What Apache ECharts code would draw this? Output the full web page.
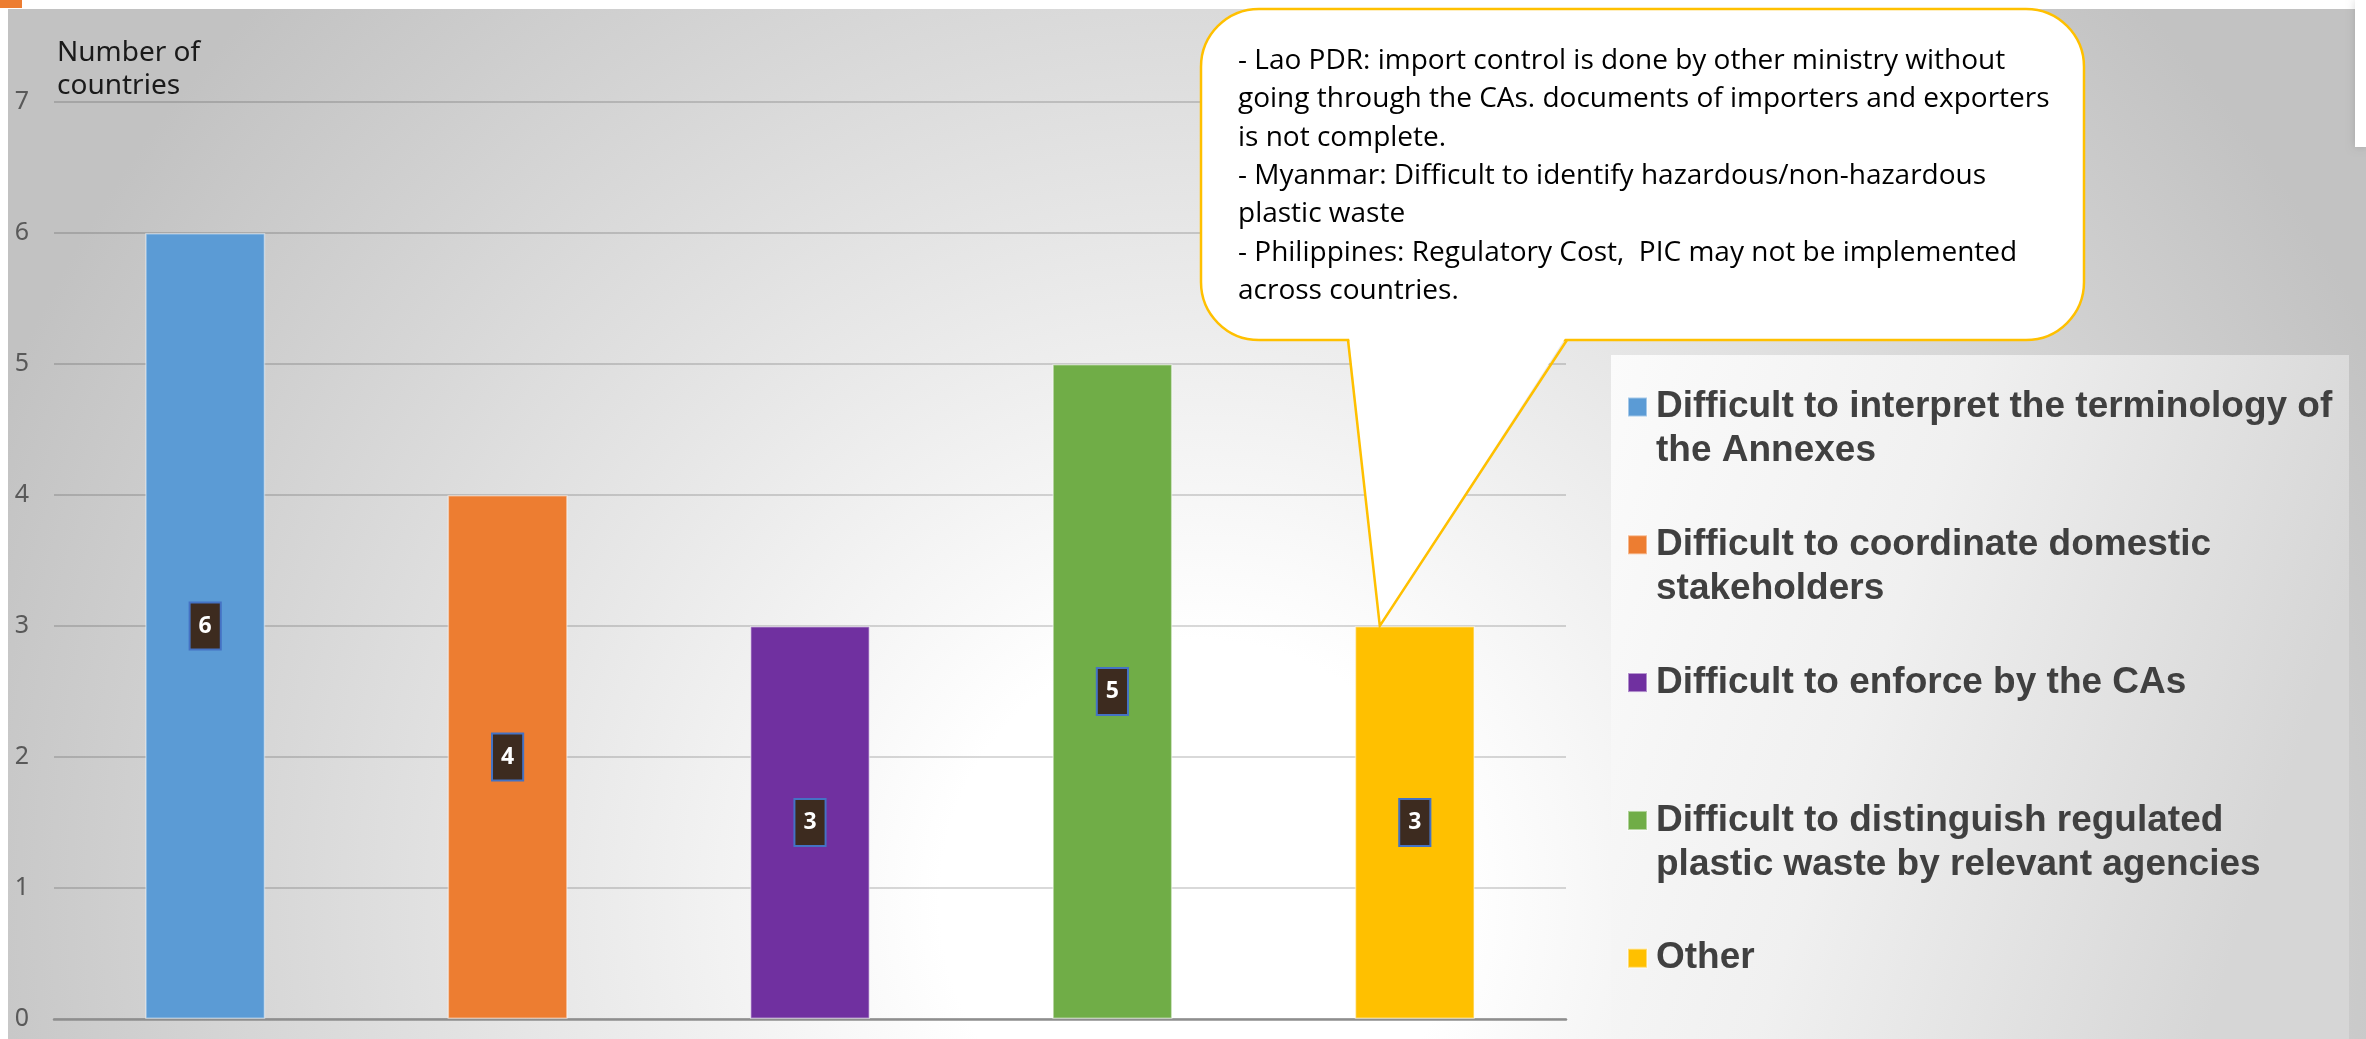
<!DOCTYPE html>
<html>
<head>
<meta charset="utf-8">
<title>Difficulties in implementing the Annexes</title>
<script src="https://cdn.jsdelivr.net/npm/echarts@6/dist/echarts.min.js"></script>
<style>
  html, body { margin: 0; padding: 0; background: #ffffff; }
  #chart { width: 2366px; height: 1039px; }
</style>
</head>
<body>
<div id="chart"></div>
<script>
// Survey answers: number of countries reporting each difficulty
const categories = [
  'Difficult to interpret the terminology of the Annexes',
  'Difficult to coordinate domestic stakeholders',
  'Difficult to enforce by the CAs',
  'Difficult to distinguish regulated plastic waste by relevant agencies',
  'Other'
];
const counts = [6, 4, 3, 5, 3];
const barColors = ['#5B9BD5', '#ED7D31', '#7030A0', '#70AD47', '#FFC000'];

// Legend wording, broken into display lines
const legendLines = [
  ['Difficult to interpret the terminology of', 'the Annexes'],
  ['Difficult to coordinate domestic', 'stakeholders'],
  ['Difficult to enforce by the CAs'],
  ['Difficult to distinguish regulated', 'plastic waste by relevant agencies'],
  ['Other']
];

// Value axis
const yMin = 0;
const yMax = 7;
const yStep = 1;
const yAxisTitle = 'Number of\ncountries';

// Comments attached to the "Other" bar
const noteLines = [
  '- Lao PDR: import control is done by other ministry without',
  'going through the CAs. documents of importers and exporters',
  'is not complete.',
  '- Myanmar: Difficult to identify hazardous/non-hazardous',
  'plastic waste',
  '- Philippines: Regulatory Cost,  PIC may not be implemented',
  'across countries.'
];
const noteTarget = 4; // index of the category the callout points at

const chart = echarts.init(document.getElementById('chart'), null, { renderer: 'canvas' });

// One stacked series per category so every bar can have its own legend entry
const series = categories.map((name, i) => ({
  name: name,
  type: 'bar',
  stack: 'answers',
  barWidth: 120,
  itemStyle: {
    color: barColors[i],
    borderColor: 'rgba(255,255,255,0.45)',
    borderWidth: 1.5
  },
  label: {
    show: true,
    position: 'inside',
    formatter: '{c}',
    color: '#ffffff',
    fontFamily: 'Noto Sans',
    fontWeight: 'bold',
    fontSize: 23,
    lineHeight: 23,
    backgroundColor: '#3d2b1f',
    borderColor: '#4472C4',
    borderWidth: 2,
    padding: [11, 8, 11, 8]
  },
  data: categories.map((c, j) => (j === i ? counts[j] : '-'))
}));

// Legend: one block per entry. The legend centres its text on the marker, so
// two-line entries get a blank leading line to keep the marker on the first line.
const legendFirstRow = 407;
const legendRowStep = 137.8;
const legendLineHeight = 44;
const legends = categories.map((name, i) => {
  const twoLines = legendLines[i].length > 1;
  const iconCentre = legendFirstRow + i * legendRowStep;
  const offset = twoLines ? legendLineHeight * 1.5 : legendLineHeight / 2;
  const shown = twoLines ? [' '].concat(legendLines[i]) : legendLines[i];
  return {
    data: [name],
    orient: 'vertical',
    left: 1627,
    top: iconCentre - offset,
    padding: 0,
    itemWidth: 19,
    itemHeight: 19,
    icon: 'rect',
    selectedMode: false,
    formatter: () => shown.join('\n'),
    textStyle: {
      color: '#404040',
      fontFamily: 'Liberation Sans, Arial, sans-serif',
      fontWeight: 'bold',
      fontSize: 37,
      lineHeight: legendLineHeight,
      padding: [0, 0, 0, 4]
    }
  };
});

const option = {
  animation: false,
  backgroundColor: '#ffffff',
  grid: { left: 54, right: 800, top: 102, bottom: 20, containLabel: false },
  xAxis: {
    type: 'category',
    data: categories,
    axisLine: { show: true, lineStyle: { color: '#8e8e8e', width: 2.5 } },
    axisTick: { show: false },
    axisLabel: { show: false },
    splitLine: { show: false }
  },
  yAxis: {
    type: 'value',
    min: yMin,
    max: yMax,
    interval: yStep,
    name: yAxisTitle,
    nameLocation: 'end',
    nameGap: -1,
    nameTextStyle: {
      align: 'left',
      verticalAlign: 'bottom',
      color: '#1a1a1a',
      fontFamily: 'Noto Sans',
      fontSize: 28,
      lineHeight: 33,
      padding: [0, 0, 0, 3]
    },
    axisLine: { show: false },
    axisTick: { show: false },
    axisLabel: {
      margin: 25,
      color: '#595959',
      fontFamily: 'Noto Sans',
      fontSize: 25
    },
    splitLine: { lineStyle: { color: 'rgba(0,0,0,0.2)', width: 1.5 } }
  },
  legend: legends,
  series: series
};

chart.setOption(option);

// Decorations: slide background, legend panel and the callout pointing at a bar
const W = 2366, H = 1039;
const tip = chart.convertToPixel({ gridIndex: 0 }, [noteTarget, counts[noteTarget]]);
const tipX = tip[0] - 35;
const tipY = tip[1];

const bx1 = 1201, by1 = 9, bx2 = 2084, by2 = 340;
const tailL = 1348, tailR = 1567;

chart.setOption({
  graphic: [
    {
      type: 'rect',
      z: -20,
      silent: true,
      shape: { x: 8, y: 9, width: W - 8, height: H - 9 },
      style: {
        fill: {
          type: 'radial', global: true, x: 1200, y: 900, r: 1300,
          colorStops: [
            { offset: 0, color: '#ffffff' },
            { offset: 0.2, color: '#ffffff' },
            { offset: 1, color: '#c2c2c2' }
          ]
        }
      }
    },
    {
      type: 'rect',
      z: -19,
      silent: true,
      shape: { x: 2355, y: 0, width: 11, height: 147 },
      style: { fill: '#ffffff', shadowBlur: 8, shadowColor: 'rgba(0,0,0,0.15)' }
    },
    {
      type: 'rect',
      z: -18,
      silent: true,
      shape: { x: 0, y: 0, width: 22, height: 8 },
      style: { fill: '#ED7D31' }
    },
    {
      type: 'rect',
      z: -15,
      silent: true,
      shape: { x: 1611, y: 355, width: 738, height: H - 355 },
      style: {
        fill: {
          type: 'linear', x: 0, y: 0, x2: 1, y2: 0.35,
          colorStops: [
            { offset: 0, color: '#fbfbfb' },
            { offset: 0.45, color: '#f0f0f0' },
            { offset: 1, color: '#d6d6d6' }
          ]
        }
      }
    },
    // callout body
    {
      type: 'rect',
      z: 20,
      silent: true,
      shape: { x: bx1, y: by1, width: bx2 - bx1, height: by2 - by1, r: 58 },
      style: { fill: '#ffffff', stroke: '#FFC000', lineWidth: 2.5 }
    },
    // callout pointer: white wedge hides the border under the opening
    {
      type: 'polygon',
      z: 21,
      silent: true,
      shape: { points: [[tailL + 1, by2 - 3], [tailR - 1, by2 - 3], [tipX, tipY]] },
      style: { fill: '#ffffff' }
    },
    {
      type: 'polyline',
      z: 22,
      silent: true,
      shape: { points: [[tailL, by2], [tipX, tipY], [tailR, by2]] },
      style: { fill: null, stroke: '#FFC000', lineWidth: 2.5, lineJoin: 'miter' }
    },
    {
      type: 'text',
      z: 23,
      silent: true,
      x: 1238,
      y: 42,
      style: {
        text: noteLines.join('\n'),
        fill: '#000000',
        font: '28px "Open Sans", sans-serif',
        lineHeight: 38.3,
        verticalAlign: 'top',
        align: 'left'
      }
    }
  ]
});
</script>
</body>
</html>
